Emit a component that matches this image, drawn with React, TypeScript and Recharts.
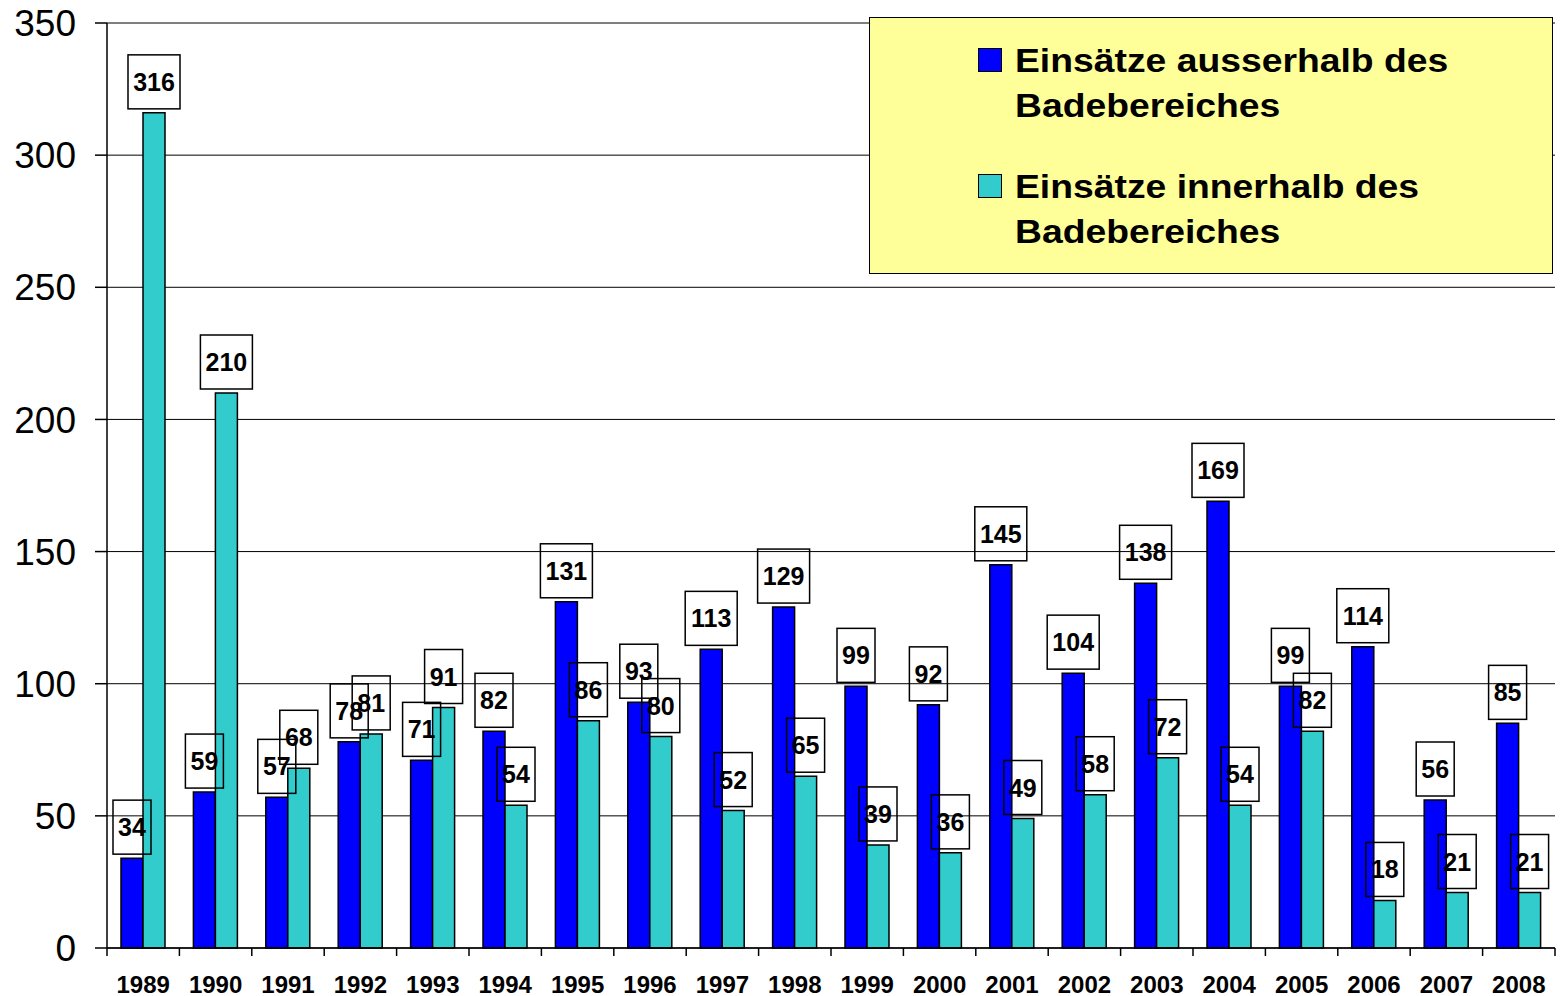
import React from 'react';
import {
  BarChart,
  Bar,
  XAxis,
  YAxis,
  CartesianGrid,
  Legend,
  LabelList,
} from 'recharts';

const years = [
  '1989', '1990', '1991', '1992', '1993', '1994', '1995', '1996', '1997', '1998',
  '1999', '2000', '2001', '2002', '2003', '2004', '2005', '2006', '2007', '2008',
];
const ausserhalb = [34, 59, 57, 78, 71, 82, 131, 93, 113, 129, 99, 92, 145, 104, 138, 169, 99, 114, 56, 85];
const innerhalb = [316, 210, 68, 81, 91, 54, 86, 80, 52, 65, 39, 36, 49, 58, 72, 54, 82, 18, 21, 21];
const yTicks = [0, 50, 100, 150, 200, 250, 300, 350];

const series = [
  { key: 'ausserhalb', name: 'Einsätze ausserhalb des', name2: 'Badebereiches', color: '#0000FF' },
  { key: 'innerhalb', name: 'Einsätze innerhalb des', name2: 'Badebereiches', color: '#33CCCC' },
];

const data = years.map((year, i) => ({
  year,
  ausserhalb: ausserhalb[i],
  innerhalb: innerhalb[i],
}));

const FONT = '"Liberation Sans", Arial, sans-serif';

// boxed value label, centred over a bar
function drawBox(cx: number, top: number, value: number, key: string) {
  const text = String(value);
  const w = text.length * 14 + 10;
  const h = 54;
  const bottom = top - 4;
  return (
    <g key={key}>
      <rect x={cx - w / 2} y={bottom - h} width={w} height={h} fill="none" stroke="#000" strokeWidth={1.5} />
      <text
        x={cx}
        y={bottom - h / 2}
        textAnchor="middle"
        dominantBaseline="central"
        fontFamily={FONT}
        fontWeight="bold"
        fontSize={25}
        fill="#000"
      >
        {text}
      </text>
    </g>
  );
}

function InnerLabel(props: any) {
  const { x, y, width, value, index } = props;
  return drawBox(Number(x) + Number(width) / 2, Number(y), Number(value), 'in' + index);
}

// labels of the blue series are drawn from the cyan bar so they sit above all bars
function OuterLabel(props: any) {
  const { x, y, width, height, index } = props;
  const base = Number(y) + Number(height);
  const perUnit = Number(height) / innerhalb[index];
  const top = base - ausserhalb[index] * perUnit;
  return drawBox(Number(x) - Number(width) / 2, top, ausserhalb[index], 'out' + index);
}

function YearTick(props: any) {
  const { x, y, payload, index } = props;
  const half = payload && payload.offset ? payload.offset : 36.2;
  return (
    <g>
      <line x1={x - half} y1={y} x2={x - half} y2={y + 8} stroke="#000" strokeWidth={1.5} />
      {index === years.length - 1 && (
        <line x1={x + half} y1={y} x2={x + half} y2={y + 8} stroke="#000" strokeWidth={1.5} />
      )}
      <text
        x={x}
        y={y + 36}
        textAnchor="middle"
        dominantBaseline="central"
        fontFamily={FONT}
        fontWeight="bold"
        fontSize={24}
        fill="#000"
      >
        {payload.value}
      </text>
    </g>
  );
}

function LegendBox() {
  return (
    <div
      style={{
        position: 'relative',
        width: 684,
        height: 257,
        boxSizing: 'border-box',
        background: '#FFFF99',
        border: '1.5px solid #000',
        fontFamily: FONT,
      }}
    >
      {series.map((s, i) => (
        <div key={s.key} style={{ position: 'absolute', left: 0, top: i * 126, width: '100%' }}>
          <div
            style={{
              position: 'absolute',
              left: 108,
              top: 30,
              width: 24,
              height: 24,
              boxSizing: 'border-box',
              background: s.color,
              border: '1.5px solid #000',
            }}
          />
          <div
            style={{
              position: 'absolute',
              left: 145,
              top: 20,
              fontSize: 33,
              fontWeight: 'bold',
              lineHeight: '45px',
              color: '#000',
              whiteSpace: 'nowrap',
              transform: 'scaleX(1.13)',
              transformOrigin: 'left top',
            }}
          >
            <div>{s.name}</div>
            <div>{s.name2}</div>
          </div>
        </div>
      ))}
    </div>
  );
}

export default function App() {
  return (
    <div style={{ position: 'absolute', left: 0, top: 0, width: 1560, height: 996, background: '#fff' }}>
      <BarChart
        width={1560}
        height={996}
        data={data}
        margin={{ top: 23, right: 5, bottom: 0, left: 0 }}
        barGap={0}
        barSize={22}
      >
        <CartesianGrid horizontal vertical={false} stroke="#000" strokeWidth={1} />
        <XAxis
          dataKey="year"
          height={48}
          tickLine={false}
          tickSize={0}
          tickMargin={0}
          axisLine={{ stroke: '#000', strokeWidth: 1.5 }}
          tick={<YearTick />}
          interval={0}
        />
        <YAxis
          width={107}
          domain={[0, 350]}
          ticks={yTicks}
          tickSize={12}
          tickMargin={19}
          tickLine={{ stroke: '#000', strokeWidth: 1.5 }}
          axisLine={{ stroke: '#000', strokeWidth: 1.5 }}
          tick={{ fill: '#000', fontSize: 37, fontFamily: FONT }}
        />
        <YAxis
          yAxisId="frame"
          orientation="right"
          width={0}
          domain={[0, 350]}
          tick={false}
          tickLine={false}
          axisLine={{ stroke: '#808080', strokeWidth: 1.5 }}
        />
        <Legend
          layout="horizontal"
          verticalAlign="middle"
          wrapperStyle={{ left: 869, top: 17, width: 684, height: 257 }}
          content={() => <LegendBox />}
        />
        <Bar
          dataKey="ausserhalb"
          name={series[0].name}
          fill={series[0].color}
          stroke="#000"
          strokeWidth={1.5}
          isAnimationActive={false}
        />
        <Bar
          dataKey="innerhalb"
          name={series[1].name}
          fill={series[1].color}
          stroke="#000"
          strokeWidth={1.5}
          isAnimationActive={false}
        >
          <LabelList dataKey="ausserhalb" content={OuterLabel} />
          <LabelList dataKey="innerhalb" content={InnerLabel} />
        </Bar>
      </BarChart>
    </div>
  );
}
